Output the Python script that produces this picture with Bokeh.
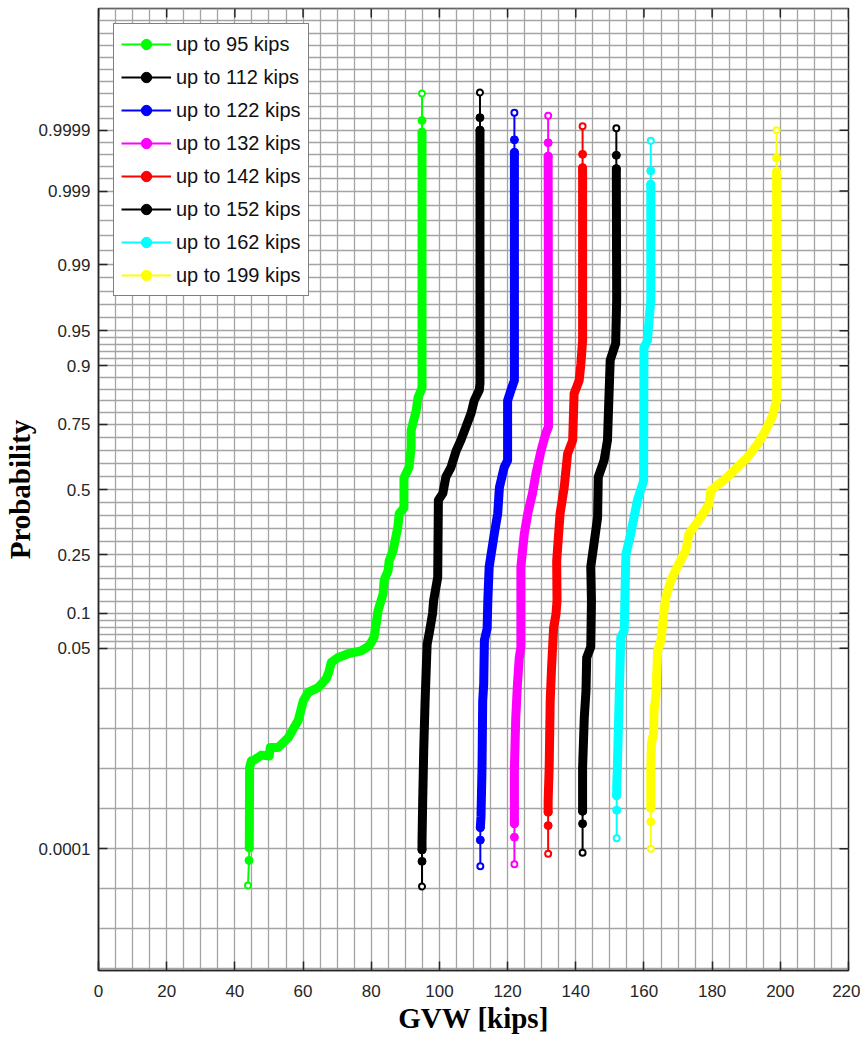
from statistics import NormalDist
from bokeh.plotting import figure
from bokeh.models import Range1d, FixedTicker, Legend, LegendItem
from bokeh.embed import file_html
from bokeh.resources import INLINE

# ---- axis tick values (probabilities) ----
prob_ticks = [0.0001, 0.05, 0.1, 0.25, 0.5, 0.75, 0.9, 0.95, 0.99, 0.999, 0.9999]
prob_labels = ["0.0001", "0.05", "0.1", "0.25", "0.5", "0.75", "0.9", "0.95", "0.99", "0.999", "0.9999"]
x_ticks = list(range(0, 221, 20))

# ---- data: GVW [kips] vs. standard normal quantile of plotting position ----
x95 = [43.85, 44.15, 44.23, 44.32, 44.82, 45.70, 47.75, 50.09, 50.38, 52.73, 55.66, 58.59, 60.05, 61.52,
       64.45, 66.79, 67.67, 68.26, 70.31, 73.24, 77.04, 79.39, 80.85, 81.44, 82.03, 83.49, 83.78, 84.95,
       85.25, 86.42, 87.8, 88.2, 89.6, 89.6, 91.1, 91.7, 91.7, 93.2, 93.7, 94.9, 94.9, 94.9, 94.9, 94.9]
q95 = [-4.10, -3.84, -3.71, -2.88, -2.81, -2.80, -2.75, -2.76, -2.67, -2.67, -2.57, -2.39, -2.19, -2.10,
       -2.05, -1.96, -1.88, -1.79, -1.74, -1.70, -1.67, -1.62, -1.53, -1.39, -1.25, -1.08, -0.94, -0.84,
       -0.74, -0.63, -0.39, -0.25, -0.19, 0.12, 0.23, 0.44, 0.61, 0.82, 0.95, 1.05, 3.62, 3.70, 3.82, 4.10]

x112 = [94.9, 94.9, 94.9, 94.9, 95.1, 95.4, 95.8, 96.4, 97.0, 98.0, 98.3, 99.5, 99.7, 101.0, 101.9,
        103.4, 104.9, 106.3, 107.8, 109.3, 110.2, 111.7, 111.9, 111.9, 111.9, 111.9, 111.9]
q112 = [-4.11, -3.85, -3.73, -3.64, -3.22, -2.70, -2.19, -1.60, -1.49, -1.28, -1.15, -0.91, -0.11, -0.04,
        0.13, 0.23, 0.40, 0.51, 0.65, 0.79, 0.92, 1.03, 1.10, 3.22, 3.72, 3.85, 4.11]

x122 = [112.0, 112.0, 112.0, 112.2, 112.5, 112.7, 113.0, 113.2, 114.0, 114.2, 114.6, 116.1, 117.1, 117.6,
        119.0, 120.0, 120.0, 121.0, 122.0, 122.0, 122.0, 122.0, 122.0]
q122 = [-3.90, -3.63, -3.50, -3.39, -2.88, -2.19, -2.01, -1.56, -1.44, -1.15, -0.80, -0.46, -0.25, 0.02,
        0.23, 0.30, 0.92, 1.03, 1.13, 3.41, 3.49, 3.62, 3.90]

x132 = [122.0, 122.0, 122.0, 122.0, 122.0, 122.4, 122.9, 123.4, 123.9, 123.9, 123.9, 124.9, 125.9, 127.3,
        128.3, 129.8, 131.2, 132.0, 131.9, 131.9, 131.9, 131.9]
q132 = [-3.88, -3.60, -3.46, -3.34, -2.88, -2.36, -2.01, -1.75, -1.63, -1.15, -0.80, -0.46, -0.25, -0.04,
        0.16, 0.40, 0.58, 0.65, 3.36, 3.45, 3.59, 3.87]

x142 = [131.9, 131.9, 131.9, 131.9, 132.2, 132.5, 132.9, 133.5, 134.2, 134.5, 134.4, 135.4, 136.6, 137.6,
        139.1, 139.5, 141.0, 141.5, 142.0, 142.0, 142.0, 142.0, 142.0]
q142 = [-3.77, -3.48, -3.34, -3.22, -2.88, -2.19, -1.84, -1.43, -1.29, -1.15, -0.74, -0.25, 0.02, 0.37,
        0.51, 0.99, 1.13, 1.30, 1.54, 3.24, 3.33, 3.47, 3.76]

x152 = [142.0, 142.0, 142.0, 142.0, 142.0, 142.5, 143.0, 143.2, 144.4, 144.6, 144.4, 146.4, 146.6, 148.3,
        149.3, 150.1, 151.7, 152.0, 151.9, 151.9, 151.9, 151.9]
q152 = [-3.76, -3.46, -3.33, -3.22, -2.88, -2.36, -2.08, -1.74, -1.63, -1.15, -0.80, -0.29, 0.13, 0.30,
        0.51, 1.34, 1.51, 1.96, 3.22, 3.32, 3.46, 3.74]

x162 = [152.0, 152.0, 152.0, 152.0, 152.2, 152.7, 153.2, 154.2, 154.4, 154.7, 156.1, 158.1, 159.9, 160.0,
        161.0, 162.0, 162.0, 162.0, 162.0, 162.0]
q162 = [-3.61, -3.32, -3.17, -3.07, -2.88, -2.19, -1.53, -1.46, -1.15, -0.67, -0.46, -0.11, 0.09, 1.47,
        1.54, 1.96, 3.06, 3.16, 3.30, 3.61]

x199 = [162.0, 162.0, 162.0, 162.0, 162.0, 162.2, 162.8, 163.0, 163.5, 164.0, 165.0, 165.9, 166.4, 167.9,
        169.8, 172.3, 173.2, 176.6, 179.1, 179.6, 184.5, 187.4, 190.3, 193.3, 195.2, 197.6, 198.9, 198.9,
        198.9, 198.9, 198.9]
q199 = [-3.72, -3.44, -3.30, -3.21, -2.88, -2.63, -2.53, -2.26, -2.15, -1.67, -1.56, -1.25, -1.12, -0.94,
        -0.80, -0.63, -0.46, -0.29, -0.15, -0.01, 0.13, 0.23, 0.33, 0.47, 0.58, 0.75, 0.92, 3.18, 3.29,
        3.43, 3.72]

labels = ["up to 95 kips", "up to 112 kips", "up to 122 kips", "up to 132 kips",
          "up to 142 kips", "up to 152 kips", "up to 162 kips", "up to 199 kips"]
colors = ["#00ff00", "#000000", "#0000ff", "#ff00ff", "#ff0000", "#000000", "#00ffff", "#ffff00"]
xs_all = [x95, x112, x122, x132, x142, x152, x162, x199]
qs_all = [q95, q112, q122, q132, q142, q152, q162, q199]

# ---- probability scale ----
nd = NormalDist()
z_ticks = [nd.inv_cdf(pv) for pv in prob_ticks]
XMIN, XMAX = 0, 220
YMIN, YMAX = -4.98, 4.98

# minor grid: each tick interval split into five, extended beyond the ends
grid_z = []
for a, b in zip(z_ticks[:-1], z_ticks[1:]):
    step = (b - a) / 5
    grid_z += [a + k * step for k in range(5)]
grid_z.append(z_ticks[-1])
lo_step = (z_ticks[1] - z_ticks[0]) / 5
v = z_ticks[0] - lo_step
while v > YMIN:
    grid_z.append(v)
    v -= lo_step
hi_step = (z_ticks[-1] - z_ticks[-2]) / 5
v = z_ticks[-1] + hi_step
while v < YMAX:
    grid_z.append(v)
    v += hi_step

TXT = "#262626"
W, H = 860, 1043
BL, BR, BT, BB = 97, 12, 8, 73
FW, FH = W - BL - BR, H - BT - BB

p = figure(width=W, height=H, output_backend="svg", toolbar_location=None,
           x_range=Range1d(XMIN, XMAX), y_range=Range1d(YMIN, YMAX),
           min_border_left=BL, min_border_right=BR, min_border_top=BT, min_border_bottom=BB)
p.background_fill_color = "white"
p.border_fill_color = "white"
p.outline_line_color = TXT
p.outline_line_width = 1.5

p.xgrid.ticker = FixedTicker(ticks=list(range(0, 221, 5)))
p.ygrid.ticker = FixedTicker(ticks=grid_z)
for g in (p.xgrid, p.ygrid):
    g.grid_line_color = "#a4a4a4"
    g.grid_line_width = 1.3

p.xaxis.ticker = FixedTicker(ticks=x_ticks)
p.yaxis.ticker = FixedTicker(ticks=z_ticks)
p.yaxis.major_label_overrides = {z: lab for z, lab in zip(z_ticks, prob_labels)}
for ax in (p.xaxis, p.yaxis):
    ax.major_tick_in = 9
    ax.major_tick_out = 0
    ax.minor_tick_line_color = None
    ax.major_tick_line_color = TXT
    ax.major_tick_line_width = 1.5
    ax.axis_line_color = TXT
    ax.axis_line_width = 1.5
    ax.major_label_text_font = "Liberation Sans"
    ax.major_label_text_font_size = "17px"
    ax.major_label_text_color = TXT
    ax.axis_label_text_font = "Liberation Serif"
    ax.axis_label_text_font_style = "bold"
    ax.axis_label_text_font_size = "29px"
    ax.axis_label_text_color = "black"
p.xaxis.axis_label = "GVW [kips]"
p.yaxis.axis_label = "Probability"
p.xaxis.major_label_standoff = 14
p.yaxis.major_label_standoff = 8
p.xaxis.axis_label_standoff = 2
p.yaxis.axis_label_standoff = 0

# inward tick marks on the top and right edges of the box
dy = 9 * (YMAX - YMIN) / FH
dx = 9 * (XMAX - XMIN) / FW
p.segment(x0=x_ticks, y0=[YMAX] * len(x_ticks), x1=x_ticks, y1=[YMAX - dy] * len(x_ticks),
          line_color=TXT, line_width=1.5)
p.segment(x0=[XMAX] * len(z_ticks), y0=z_ticks, x1=[XMAX - dx] * len(z_ticks), y1=z_ticks,
          line_color=TXT, line_width=1.5)

items = []
for lab, col, xs, qs in zip(labels, colors, xs_all, qs_all):
    thin = p.line(xs, qs, line_color=col, line_width=2)
    p.line(xs[2:-2], qs[2:-2], line_color=col, line_width=9, line_join="round", line_cap="round")
    filled = p.scatter([xs[1], xs[2], xs[-3], xs[-2]], [qs[1], qs[2], qs[-3], qs[-2]],
                       marker="circle", size=8, fill_color=col, line_color=col)
    p.scatter([xs[0], xs[-1]], [qs[0], qs[-1]], marker="circle", size=6,
              fill_color="white", line_color=col, line_width=2)
    items.append(LegendItem(label=lab, renderers=[thin, filled]))

legend = Legend(items=items, location="top_left", margin=15, padding=7, spacing=7,
                glyph_width=50, glyph_height=26, label_height=26, label_standoff=5,
                label_text_font="Liberation Sans", label_text_font_size="20px",
                label_text_color="#111111", border_line_color="black", border_line_width=1.5,
                background_fill_color="white", background_fill_alpha=1.0)
p.add_layout(legend)

open("out.html", "w").write(file_html(p, INLINE))
